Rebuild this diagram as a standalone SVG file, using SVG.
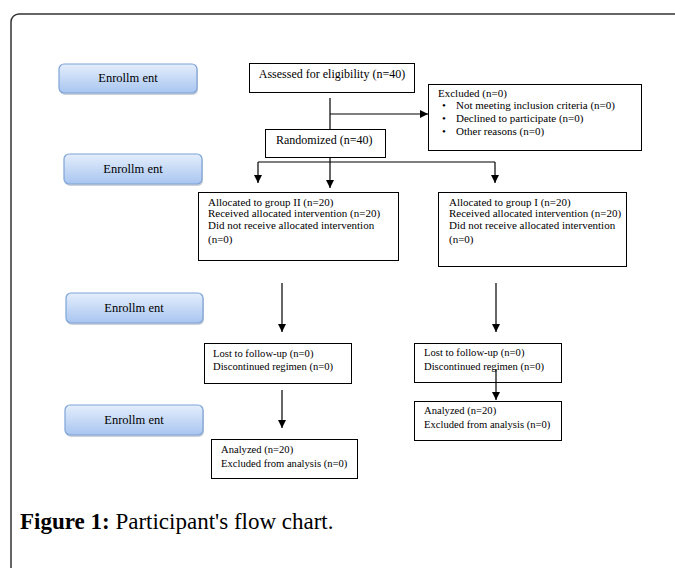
<svg xmlns="http://www.w3.org/2000/svg" width="675" height="568" viewBox="0 0 675 568">
<defs>
<linearGradient id="btn" x1="0" y1="0" x2="0" y2="1">
<stop offset="0" stop-color="#e4eefc"/>
<stop offset="1" stop-color="#a8c5f0"/>
</linearGradient>
<marker id="arr" viewBox="0 0 10 10" refX="10" refY="5" markerWidth="8" markerHeight="8" markerUnits="userSpaceOnUse" orient="auto">
<path d="M0,0 L10,5 L0,10 z" fill="#000"/>
</marker>
</defs>
<style>
.btn{fill:url(#btn);stroke:#7fa3d6;stroke-width:1.2}
.shadow{fill:#9aa6b8;opacity:0.5}
.box{fill:#fff;stroke:#000;stroke-width:1}
.t{font-family:"Liberation Serif",serif;font-size:10.6px;fill:#000}
.tg{font-family:"Liberation Serif",serif;font-size:11px;fill:#000}
.tb{font-family:"Liberation Serif",serif;font-size:12px;fill:#000}
.te{font-family:"Liberation Serif",serif;font-size:12.5px;fill:#000}
.c{stroke:#000;stroke-width:1.2;fill:none}
.ca{stroke:#000;stroke-width:1.2;fill:none;marker-end:url(#arr)}
</style>
<rect width="675" height="568" fill="#fff"/>
<rect x="11" y="14" width="700" height="600" rx="8" fill="none" stroke="#333" stroke-width="1.5"/>

<g id="enroll1"><rect class="shadow" x="60" y="66" width="138" height="29" rx="5"/><rect class="btn" x="59" y="64" width="138" height="29" rx="5"/><text class="te" x="128" y="82" text-anchor="middle">Enrollm ent</text></g>
<g id="enroll2"><rect class="shadow" x="65" y="156" width="138" height="30" rx="5"/><rect class="btn" x="64" y="154" width="138" height="30" rx="5"/><text class="te" x="133" y="173" text-anchor="middle">Enrollm ent</text></g>
<g id="enroll3"><rect class="shadow" x="67" y="295" width="137" height="30" rx="5"/><rect class="btn" x="66" y="293" width="137" height="30" rx="5"/><text class="te" x="134" y="312" text-anchor="middle">Enrollm ent</text></g>
<g id="enroll4"><rect class="shadow" x="66" y="407" width="138" height="30" rx="5"/><rect class="btn" x="65" y="405" width="138" height="30" rx="5"/><text class="te" x="134" y="424" text-anchor="middle">Enrollm ent</text></g>

<g id="assessed"><rect class="box" x="249.5" y="63.5" width="165" height="29"/><text class="tb" x="332" y="78" text-anchor="middle">Assessed for eligibility (n=40)</text></g>

<g id="excluded"><rect class="box" x="428.5" y="84.5" width="213" height="66"/>
<text class="tg" x="438" y="97">Excluded (n=0)</text>
<text class="tg" x="442" y="109">•</text><text class="tg" x="456" y="109">Not meeting inclusion criteria (n=0)</text>
<text class="tg" x="442" y="122">•</text><text class="tg" x="456" y="122">Declined to participate (n=0)</text>
<text class="tg" x="442" y="135">•</text><text class="tg" x="456" y="135">Other reasons (n=0)</text>
</g>

<g id="randomized"><rect class="box" x="265.5" y="129.5" width="120" height="28"/><text class="tb" x="276" y="144">Randomized  (n=40)</text></g>

<g id="groupII"><rect class="box" x="198.5" y="192.5" width="200" height="68"/>
<text class="tg" x="208" y="206">Allocated to group II (n=20)</text>
<text class="tg" x="208" y="217">Received allocated intervention (n=20)</text>
<text class="tg" x="208" y="229">Did not receive allocated intervention</text>
<text class="tg" x="208" y="243">(n=0)</text>
</g>

<g id="groupI"><rect class="box" x="438.5" y="192.5" width="188" height="74"/>
<text class="tg" x="449" y="206">Allocated to group I (n=20)</text>
<text class="tg" x="449" y="217">Received allocated intervention (n=20)</text>
<text class="tg" x="449" y="229">Did not receive allocated intervention</text>
<text class="tg" x="449" y="243">(n=0)</text>
</g>

<g id="lostII"><rect class="box" x="204.5" y="343.5" width="147" height="40"/>
<text class="t" x="213" y="357">Lost to follow-up (n=0)</text>
<text class="t" x="213" y="370">Discontinued regimen (n=0)</text>
</g>

<g id="lostI"><rect class="box" x="414.5" y="343.5" width="147" height="39"/>
<text class="t" x="424" y="356">Lost to follow-up (n=0)</text>
<text class="t" x="424" y="370">Discontinued regimen (n=0)</text>
</g>

<g id="analyzedII"><rect class="box" x="211.5" y="439.5" width="146" height="39"/>
<text class="t" x="221" y="453">Analyzed (n=20)</text>
<text class="t" x="221" y="467">Excluded from analysis (n=0)</text>
</g>

<g id="analyzedI"><rect class="box" x="414.5" y="401.5" width="147" height="39"/>
<text class="t" x="424" y="414">Analyzed (n=20)</text>
<text class="t" x="424" y="428">Excluded from analysis (n=0)</text>
</g>

<g id="connectors">
<line class="c" x1="330" y1="98" x2="330" y2="129"/>
<line class="ca" x1="330" y1="114" x2="428" y2="114"/>
<line class="ca" x1="330" y1="157" x2="330" y2="188"/>
<line class="c" x1="258" y1="162" x2="495" y2="162"/>
<line class="ca" x1="258" y1="162" x2="258" y2="183"/>
<line class="ca" x1="495" y1="162" x2="495" y2="183"/>
<line class="ca" x1="282" y1="283" x2="282" y2="332"/>
<line class="ca" x1="496" y1="283" x2="496" y2="332"/>
<line class="ca" x1="282" y1="390" x2="282" y2="428"/>
<line class="ca" x1="496" y1="369" x2="496" y2="400"/>
</g>

<text x="20" y="529" font-family="'Liberation Serif',serif" font-size="23" fill="#000"><tspan font-weight="bold">Figure 1:</tspan> Participant's flow chart.</text>
</svg>
